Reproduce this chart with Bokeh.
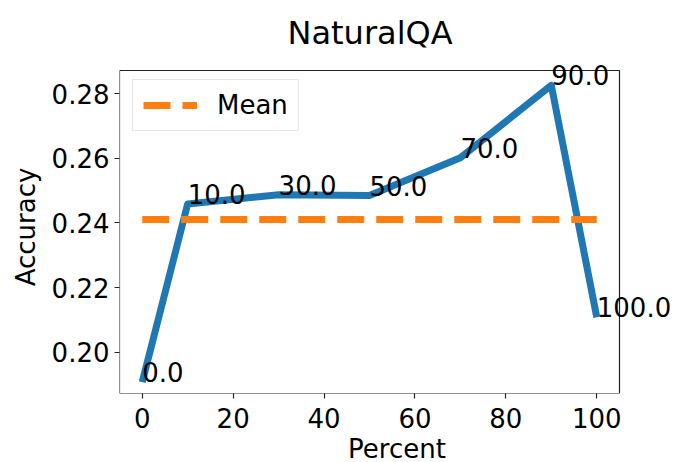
import numpy as np
from bokeh.plotting import figure
from bokeh.models import ColumnDataSource, Range1d, FixedTicker, NumeralTickFormatter, Legend, LegendItem, Label
from bokeh.embed import file_html
from bokeh.resources import INLINE

percent = [0, 10, 30, 50, 70, 90, 100]
accuracy = [0.1907, 0.2459, 0.2487, 0.2485, 0.2602, 0.2826, 0.2108]
point_labels = ["0.0", "10.0", "30.0", "50.0", "70.0", "90.0", "100.0"]
mean_acc = float(np.mean(accuracy))
x_ticks = [0, 20, 40, 60, 80, 100]
y_ticks = [0.20, 0.22, 0.24, 0.26, 0.28]

# axes box limits (matplotlib-like margins)
x_lo, x_hi = -5, 105
y_lo, y_hi = 0.1872, 0.2872

FONT = "DejaVu Sans"
FS = "26px"

# the visible box is 500x323 px; the drawing area extends a bit to the right/top
# so that the point labels can overflow the box like in the reference
BOX_W, BOX_H = 500, 323
EXTRA_R, EXTRA_T = 55, 10
px_x = (x_hi - x_lo) / BOX_W
px_y = (y_hi - y_lo) / BOX_H

p = figure(
    frame_width=BOX_W + EXTRA_R, frame_height=BOX_H + EXTRA_T,
    min_border_left=119, min_border_right=0, min_border_top=60, min_border_bottom=69,
    x_range=Range1d(x_lo, x_hi + EXTRA_R * px_x), y_range=Range1d(y_lo, y_hi + EXTRA_T * px_y),
    output_backend="svg", toolbar_location=None,
    title="NaturalQA",
)
p.background_fill_color = "white"
p.border_fill_color = "white"
p.outline_line_color = None
p.grid.visible = False

p.title.text_font = FONT
p.title.text_font_size = "32px"
p.title.text_font_style = "normal"
p.title.align = "left"
p.title.offset = 168
p.title.text_color = "black"
p.title.standoff = 18

# axes box
p.quad(left=[x_lo], right=[x_hi], bottom=[y_lo], top=[y_hi], fill_color=None,
       line_color="#222222", line_width=1.2)

src = ColumnDataSource(dict(x=percent, y=accuracy))
line_r = p.line("x", "y", source=src, line_color="#1f77b4", line_width=7, line_join="round")
mean_r = p.line(x=[0, 100], y=[mean_acc, mean_acc], line_color="#ff7f0e", line_width=7,
                line_dash="27 12")
for xv, yv, lab in zip(percent, accuracy, point_labels):
    p.add_layout(Label(x=xv, y=yv, text=lab, text_font=FONT, text_font_size=FS,
                       text_align="left", text_baseline="alphabetic", text_color="black",
                       y_offset=10))

for ax in (p.xaxis[0], p.yaxis[0]):
    ax.axis_line_color = None
    ax.major_tick_line_color = "#222222"
    ax.major_tick_line_width = 1.2
    ax.major_tick_out = 5
    ax.major_tick_in = 0
    ax.minor_tick_line_color = None
    ax.major_label_text_font = FONT
    ax.major_label_text_font_size = FS
    ax.major_label_text_color = "black"
    ax.axis_label_text_font = FONT
    ax.axis_label_text_font_size = FS
    ax.axis_label_text_font_style = "normal"
    ax.axis_label_text_color = "black"

p.xaxis.major_label_text_line_height = 1.0
p.xaxis.axis_label_text_line_height = 1.0
p.xaxis.ticker = FixedTicker(ticks=x_ticks)
p.yaxis.ticker = FixedTicker(ticks=y_ticks)
p.yaxis.formatter = NumeralTickFormatter(format="0.00")
p.xaxis.axis_label = "Percent"
p.yaxis.axis_label = "Accuracy"
p.xaxis.major_label_standoff = 9
p.yaxis.major_label_standoff = 5
p.xaxis.axis_label_standoff = 3
p.yaxis.axis_label_standoff = 8

legend = Legend(items=[LegendItem(label="Mean", renderers=[mean_r])], location=(13, 262))
legend.margin = 0
legend.padding = 10
legend.glyph_width = 54
legend.glyph_height = 26
legend.label_standoff = 20
legend.label_text_font = FONT
legend.label_text_font_size = FS
legend.label_text_color = "black"
legend.border_line_color = "#d0d0d0"
legend.border_line_width = 1.2
legend.background_fill_alpha = 0.8
p.add_layout(legend)

open("out.html", "w").write(file_html(p, INLINE))
